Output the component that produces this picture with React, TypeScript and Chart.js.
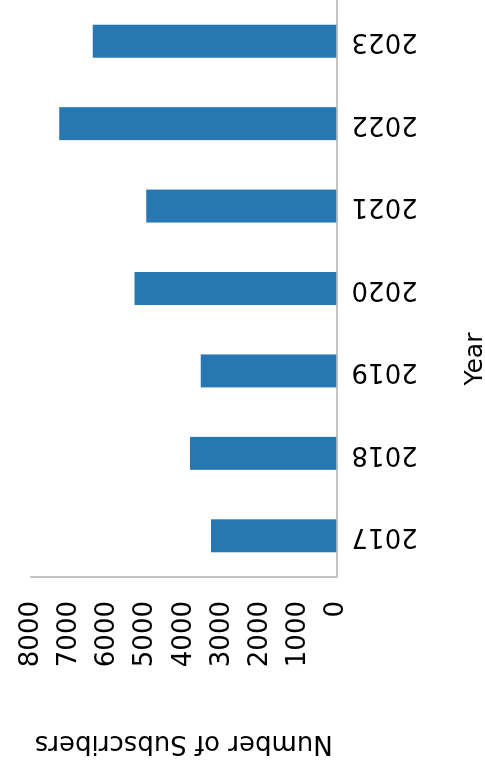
import React, { useEffect, useRef } from "react";
import { Chart, registerables } from "chart.js";

Chart.register(...registerables);

const years: string[] = ["2017", "2018", "2019", "2020", "2021", "2022", "2023"];
const subscribers: number[] = [3286, 3835, 3556, 5291, 4985, 7260, 6380];
const yMin = 0;
const yMax = 8000;
const yStep = 1000;
const xTitle = "Year";
const yTitle = "Number of Subscribers";

const FONT = "'DejaVu Sans', sans-serif";
const W = 772; // unrotated chart width
const H = 485; // unrotated chart height

const xTitlePlugin = {
  id: "xTitlePlugin",
  afterDraw(chart: any) {
    const ctx = chart.ctx;
    ctx.save();
    ctx.font = `25px ${FONT}`;
    ctx.fillStyle = "#000";
    ctx.textAlign = "center";
    ctx.textBaseline = "alphabetic";
    ctx.fillText(xTitle, 413, 482);
    ctx.restore();
  },
};

export default function App() {
  const ref = useRef<HTMLCanvasElement | null>(null);
  useEffect(() => {
    if (!ref.current) return;
    const chart = new Chart(ref.current, {
      type: "bar",
      data: {
        labels: years,
        datasets: [
          {
            data: subscribers,
            backgroundColor: "#2777b3",
            borderWidth: 0,
            categoryPercentage: 0.8,
            barPercentage: 0.5,
          },
        ],
      },
      options: {
        responsive: false,
        animation: false,
        devicePixelRatio: 1,
        layout: { padding: { top: 31, right: 0, bottom: 0, left: 0 } },
        plugins: { legend: { display: false }, tooltip: { enabled: false } },
        scales: {
          x: {
            grid: { display: false, drawTicks: false },
            border: { display: true, color: "#c4c4c4", width: 2 },
            ticks: {
              autoSkip: false,
              minRotation: 90,
              maxRotation: 90,
              padding: 15,
              color: "#000",
              font: { family: FONT, size: 26 },
            },
            afterFit: (s: any) => {
              s.height = H - 336.5;
              s.paddingLeft = 0;
              s.paddingRight = 0;
            },
          },
          y: {
            min: yMin,
            max: yMax,
            grid: { display: false, drawTicks: false },
            border: { display: true, color: "#c4c4c4", width: 2 },
            ticks: {
              stepSize: yStep,
              padding: 24,
              color: "#000",
              font: { family: FONT, size: 26 },
              callback: (v: any) => String(v),
            },
            title: {
              display: true,
              text: yTitle,
              color: "#000",
              font: { family: FONT, size: 26 },
              padding: { top: 14, bottom: 0 },
            },
            afterFit: (s: any) => {
              s.width = 195;
              s.paddingTop = 0;
              s.paddingBottom = 0;
            },
          },
        },
      },
      plugins: [xTitlePlugin],
    });
    return () => chart.destroy();
  }, []);

  return (
    <div
      style={{
        position: "absolute",
        left: 0,
        top: 0,
        width: H,
        height: W,
        overflow: "hidden",
        background: "#fff",
      }}
    >
      <div
        style={{
          position: "absolute",
          left: 0,
          top: 0,
          width: W,
          height: H,
          transformOrigin: "0 0",
          transform: `translate(0px, ${W}px) rotate(-90deg)`,
        }}
      >
        <canvas ref={ref} width={W} height={H} style={{ display: "block" }} />
      </div>
    </div>
  );
}
